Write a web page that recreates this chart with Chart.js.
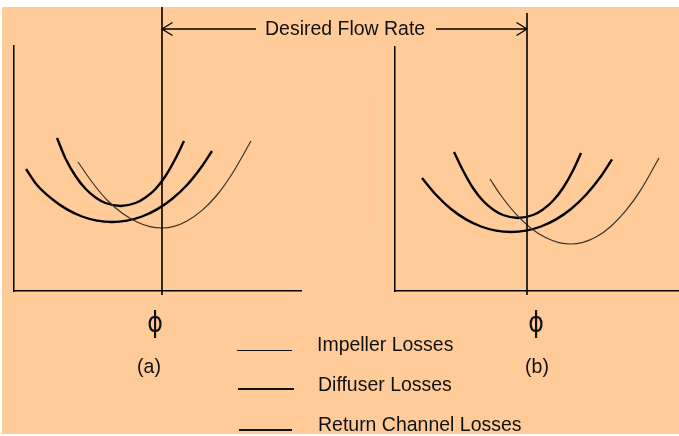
<!DOCTYPE html>
<html><head><meta charset="utf-8">
<script src="https://cdn.jsdelivr.net/npm/chart.js@4.4.1/dist/chart.umd.min.js"></script>
<style>
html,body{margin:0;padding:0;background:#fff;}
#stage{position:relative;width:679px;height:436px;overflow:hidden;background:#fff;}
#bg{position:absolute;left:2px;top:7px;width:677px;height:427px;background:#FFCC99;}
canvas{position:absolute;left:0;top:0;}
.t{position:absolute;font-family:"Liberation Sans",Arial,sans-serif;font-size:20.5px;line-height:20.5px;color:#111;white-space:nowrap;transform:scaleX(0.95);transform-origin:0 0;}
.c{transform:translateX(-50%) scaleX(0.95);transform-origin:50% 0;}
.phi{font-family:"DejaVu Sans",sans-serif;font-size:28px;line-height:28px;transform:translateX(-50%) scaleX(0.85);}
.ll{position:absolute;background:#111;}
#ghost{position:absolute;left:345px;top:97px;width:36px;height:138px;border:1px dashed #EDD69E;box-sizing:border-box;}
</style>
</head><body>
<div id="stage">
  <div id="bg"></div>
  <div id="ghost"></div>
  <canvas id="ca" width="679" height="436"></canvas>
  <canvas id="cb" width="679" height="436"></canvas>
  <div class="t" style="left:265px;top:17.6px;">Desired Flow Rate</div>
  <div class="t c phi" style="left:155px;top:309.3px;">ϕ</div>
  <div class="t c phi" style="left:536px;top:309.3px;">ϕ</div>
  <div class="t c" style="left:149px;top:355.6px;">(a)</div>
  <div class="t c" style="left:537px;top:355.6px;">(b)</div>
  <div class="ll" style="left:237px;top:349.5px;width:55px;height:1.4px;"></div>
  <div class="ll" style="left:238px;top:388.3px;width:56px;height:2px;"></div>
  <div class="ll" style="left:239px;top:429px;width:53px;height:2px;"></div>
  <div class="t" style="left:317px;top:334.3px;">Impeller Losses</div>
  <div class="t" style="left:318px;top:374.3px;">Diffuser Losses</div>
  <div class="t" style="left:318px;top:413.6px;">Return Channel Losses</div>
</div>
<script>
// ---- Panel (a) data ----
const desiredA = 148;
const impA_x = [64, 78, 93, 108, 123, 136, 148, 160, 173, 188, 203, 218, 237];
const impA_y = [129, 109, 91, 78, 69, 64.3, 63, 64.6, 70, 80.6, 96, 117, 150];
const difA_x = [12, 23, 38, 53, 68, 83, 98, 113, 128, 143, 158, 173, 188, 198];
const difA_y = [122, 106, 92, 81.6, 74.5, 70.4, 69, 70.4, 74.5, 81.6, 92, 106, 124.8, 140];
const retA_x = [43, 51.5, 61.5, 71.5, 81.5, 91.5, 106.5, 121.5, 131.5, 141.5, 151.5, 161.5, 170];
const retA_y = [153, 132.5, 115, 102.2, 93.5, 88, 85, 88, 93.5, 102, 115, 132.5, 150];

// ---- Panel (b) data ----
const desiredB = 132;
const impB_x = [95, 106, 121, 136, 151, 164, 176, 188, 201, 216, 231, 246, 264];
const impB_y = [112, 95.5, 76.9, 62.8, 53.2, 48.4, 47, 48.6, 53.9, 64.8, 80.6, 101.4, 133];
const difB_x = [27, 41, 56, 71, 86, 101, 116, 131, 146, 161, 176, 191, 206, 217];
const difB_y = [113, 96.2, 82, 71.6, 64.5, 60.4, 59, 60.4, 64.5, 71.6, 82, 96.2, 114.8, 131.6];
const retB_x = [59, 68, 78, 88, 98, 108, 123, 138, 148, 158, 168, 178, 186];
const retB_y = [139, 120.5, 103, 90.2, 81.5, 76, 73, 76, 81.5, 90.2, 103, 120.5, 138];

const seriesNames = ['Impeller Losses', 'Diffuser Losses', 'Return Channel Losses'];

function pts(xs, ys) { return xs.map((x, i) => ({x: x, y: ys[i]})); }

function ds(label, data, thin) {
  return {
    label: label, data: data,
    borderColor: thin ? '#3b3129' : '#000',
    borderWidth: thin ? 1.2 : 2.4,
    pointRadius: 0, fill: false,
    cubicInterpolationMode: 'monotone'
  };
}

let chartA = null;

const markerPlugin = {
  id: 'marker',
  afterDatasetsDraw(chart, args, opts) {
    const ctx = chart.ctx;
    const x = chart.scales.x.getPixelForValue(opts.value);
    ctx.save();
    ctx.strokeStyle = '#000';
    ctx.lineWidth = 1.6;
    ctx.beginPath();
    ctx.moveTo(x, opts.top);
    ctx.lineTo(x, chart.chartArea.bottom + 4);
    ctx.stroke();
    if (opts.arrows && chartA) {
      const ax = chartA.scales.x.getPixelForValue(desiredA);
      const y = 29;
      ctx.lineWidth = 1.3;
      ctx.beginPath();
      ctx.moveTo(ax, y); ctx.lineTo(256, y);
      ctx.moveTo(ax + 10.5, y - 6.5); ctx.lineTo(ax, y); ctx.lineTo(ax + 10.5, y + 6.5);
      ctx.moveTo(436, y); ctx.lineTo(x, y);
      ctx.moveTo(x - 10.5, y - 6.5); ctx.lineTo(x, y); ctx.lineTo(x - 10.5, y + 6.5);
      ctx.stroke();
    }
    ctx.restore();
  }
};

function scales(xmax, ymax) {
  const common = {
    type: 'linear', min: 0,
    grid: {display: false, drawTicks: false},
    ticks: {display: false},
    border: {display: true, color: '#000', width: 1.5}
  };
  return {
    x: Object.assign({}, common, {max: xmax}),
    y: Object.assign({}, common, {max: ymax})
  };
}

function makeChart(id, datasets, xmax, ymax, padding, markerOpts) {
  return new Chart(document.getElementById(id), {
    type: 'line',
    data: {datasets: datasets},
    options: {
      responsive: false, animation: false, devicePixelRatio: 1,
      layout: {padding: padding},
      scales: scales(xmax, ymax),
      plugins: {legend: {display: false}, tooltip: {enabled: false}, marker: markerOpts}
    },
    plugins: [markerPlugin]
  });
}

chartA = makeChart('ca', [
  ds(seriesNames[0], pts(impA_x, impA_y), true),
  ds(seriesNames[1], pts(difA_x, difA_y), false),
  ds(seriesNames[2], pts(retA_x, retA_y), false)
], 287, 245, {left: 14, top: 46, right: 378, bottom: 145}, {value: desiredA, top: 7});

makeChart('cb', [
  ds(seriesNames[0], pts(impB_x, impB_y), true),
  ds(seriesNames[1], pts(difB_x, difB_y), false),
  ds(seriesNames[2], pts(retB_x, retB_y), false)
], 284, 244, {left: 395, top: 47, right: 0, bottom: 145}, {value: desiredB, top: 13, arrows: true});
</script>
</body></html>
